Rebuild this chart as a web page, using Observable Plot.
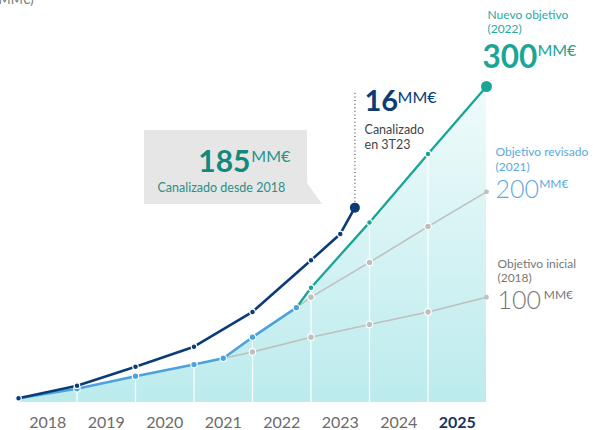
<!DOCTYPE html>
<html>
<head>
<meta charset="utf-8">
<script src="https://cdn.jsdelivr.net/npm/d3@7"></script>
<script src="https://cdn.jsdelivr.net/npm/@observablehq/plot@0.6"></script>
<style>
  html, body { margin: 0; padding: 0; background: #fff; }
</style>
</head>
<body>
<div id="chart"></div>
<script>
// ---- data (MM€, time in years from start of 2018) ----
const years = ["2018", "2019", "2020", "2021", "2022", "2023", "2024", "2025"];

const actualT = [2018, 2019, 2020, 2021, 2022, 2023, 2023.5, 2023.75];
const actualV = [4, 16, 34, 53, 86, 135, 160, 185];

const revisedPathT = [2018, 2019, 2020, 2021, 2021.5, 2022, 2022.75];
const revisedPathV = [4, 13, 25, 36, 42, 62, 90];

const initialT = [2021.5, 2022, 2023, 2024, 2025, 2026];
const initialV = [42, 48, 62, 74, 86, 100];

const target200T = [2022.75, 2023, 2024, 2025, 2026];
const target200V = [90, 100, 133, 167, 200];

const target300T = [2022.75, 2023, 2024, 2025, 2026];
const target300V = [90, 109, 171, 236, 300];

// ---- build tables ----
const zip = (T, V) => T.map((t, i) => ({t, v: V[i]}));
const actual = zip(actualT, actualV);
const revised = zip(revisedPathT, revisedPathV);
const initial = zip(initialT, initialV);
const t200 = zip(target200T, target200V);
const t300 = zip(target300T, target300V);
const areaData = revised.concat(t300.slice(1));

const NAVY = "#0c3c78", LBLUE = "#4aa2de", TEAL = "#19a596", GREY = "#bfbfbf";
const FONT = "Lato, 'Open Sans', sans-serif";

const note = (text, x, y, opts) =>
  Plot.text([{x, y, text}], {x: "x", y: "y", text: "text", textAnchor: "start",
    lineAnchor: "bottom", fontFamily: FONT, ...opts});

const dotsOpt = (fill, r) => ({x: "t", y: "v", r, fill, stroke: "white", strokeWidth: 1.1});

const svg = Plot.plot({
  width: 604,
  height: 430,
  marginTop: 0, marginRight: 0, marginBottom: 0, marginLeft: 0,
  x: {domain: [2018, 2026], range: [18, 486], axis: null},
  y: {domain: [0, 300], range: [402, 86], axis: null},
  style: {fontFamily: FONT, background: "white"},
  marks: [
    Plot.areaY(areaData, {x: "t", y1: 0, y2: "v", fill: "url(#areaGrad)"}),
    Plot.ruleX(years.slice(1).map(Number), {y1: 0, y2: 300, stroke: "white", strokeWidth: 1.3, strokeOpacity: 0.9}),
    // annotation box
    Plot.areaY([{t: 2020.154, top: 258.2}, {t: 2022.94, top: 258.2}, {t: 2022.941, top: 207.9}, {t: 2023.197, top: 188}],
      {x: "t", y1: 188, y2: "top", fill: "#e6e6e6"}),
    // lines
    Plot.line(initial, {x: "t", y: "v", stroke: GREY, strokeWidth: 1.6}),
    Plot.line(t200, {x: "t", y: "v", stroke: GREY, strokeWidth: 1.6}),
    Plot.line(revised, {x: "t", y: "v", stroke: LBLUE, strokeWidth: 2.6}),
    Plot.line(t300, {x: "t", y: "v", stroke: TEAL, strokeWidth: 2.3}),
    Plot.line(actual, {x: "t", y: "v", stroke: NAVY, strokeWidth: 2.6}),
    // dots
    Plot.dot(initial.slice(1, -1), dotsOpt(GREY, 3.3)),
    Plot.dot(t200.slice(1, -1), dotsOpt(GREY, 3.3)),
    Plot.dot([initial[initial.length - 1], t200[t200.length - 1]], {x: "t", y: "v", r: 2.4, fill: GREY}),
    Plot.dot(revised.slice(1), dotsOpt(LBLUE, 3.2)),
    Plot.dot(t300.slice(1, -1), dotsOpt(TEAL, 2.8)),
    Plot.dot(actual.slice(0, -1), dotsOpt(NAVY, 2.8)),
    Plot.dot([t300[t300.length - 1]], {x: "t", y: "v", r: 5.5, fill: TEAL}),
    // dotted leader from last actual point
    Plot.ruleX([actual[actual.length - 1]], {x: "t", y1: 190, y2: 296, stroke: "#555", strokeWidth: 1.3, strokeDasharray: "1,2.6"}),
    Plot.dot([actual[actual.length - 1]], {x: "t", y: "v", r: 5, fill: NAVY}),
    // year labels
    Plot.text(years.slice(0, -1), {x: d => +d + 0.5, y: -24.5, text: d => d, lineAnchor: "bottom", fontSize: 16, fill: "#6b6b6b", fontFamily: FONT}),
    Plot.text(years.slice(-1), {x: d => +d + 0.5, y: -24.5, text: d => d, lineAnchor: "bottom", fontSize: 16, fontWeight: "bold", fill: "#17335f", fontFamily: FONT}),
    // annotations
    note("(MM€)", 2017.6, 378, {fontSize: 13, fill: "#777"}),
    note("185", 2021.966, 219.3, {textAnchor: "end", fontSize: 30, fontWeight: "bold", fill: "#13897c"}),
    note("MM€", 2021.98, 227.9, {fontSize: 16, fill: "#1f968a"}),
    note("Canalizado desde 2018", 2020.376, 199.4, {fontSize: 12.5, fill: "#2b8f88"}),
    note("16", 2023.915, 276.3, {fontSize: 29, fontWeight: "bold", fill: NAVY}),
    note("MM€", 2024.479, 283.9, {fontSize: 16, fill: NAVY}),
    note("Canalizado\nen 3T23", 2023.915, 240.2, {fontSize: 12.5, fill: "#444", lineHeight: 1.2}),
    note("Nuevo objetivo\n(2022)", 2026.017, 350.5, {fontSize: 12, fill: "#2aa99c", lineHeight: 1.2}),
    note("300", 2025.93, 318, {fontSize: 31.5, fontWeight: "bold", fill: "#1aa597"}),
    note("MM€", 2026.87, 328.5, {fontSize: 16, fill: "#1aa597"}),
    note("Objetivo revisado\n(2021)", 2026.154, 220, {fontSize: 12, fill: "#5aa9e0", lineHeight: 1.2}),
    note("200", 2026.154, 193.7, {fontSize: 25, fontWeight: 300, fill: "#5aa9e0"}),
    note("MM€", 2026.9, 203.2, {fontSize: 12, fill: "#5aa9e0"}),
    note("Objetivo inicial\n(2018)", 2026.188, 114.5, {fontSize: 12, fill: "#777", lineHeight: 1.2}),
    note("100", 2026.188, 89.2, {fontSize: 25, fontWeight: 300, fill: "#777"}),
    note("MM€", 2026.98, 98.7, {fontSize: 12, fill: "#777"})
  ]
});

// gradient definition for the area
const defs = d3.select(svg).insert("defs", ":first-child");
const g = defs.append("linearGradient").attr("id", "areaGrad")
  .attr("x1", 0).attr("y1", 0).attr("x2", 0).attr("y2", 1);
g.append("stop").attr("offset", "0%").attr("stop-color", "#f0fbfb");
g.append("stop").attr("offset", "100%").attr("stop-color", "#bcebed");

document.getElementById("chart").appendChild(svg);
</script>
</body>
</html>
